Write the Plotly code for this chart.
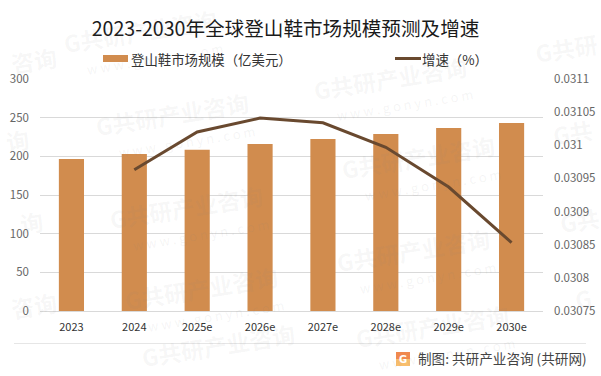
import plotly.graph_objects as go

categories = ["2023", "2024", "2025e", "2026e", "2027e", "2028e", "2029e", "2030e"]
market_size = [196.5, 203, 208.5, 216, 222.5, 229, 236.5, 243]
growth = [None, 0.030963, 0.03102, 0.031041, 0.031034, 0.030997, 0.030937, 0.030853]
left_ticks = [0, 50, 100, 150, 200, 250, 300]
right_ticks = [0.03075, 0.0308, 0.03085, 0.0309, 0.03095, 0.031, 0.03105, 0.0311]
right_labels = ["0.03075", "0.0308", "0.03085", "0.0309", "0.03095", "0.031", "0.03105", "0.0311"]

FONT = "Noto Sans CJK SC"
W, H = 601, 376
L, R, T, B = 40, 543, 79, 311


def fx(px):
    return (px - L) / (R - L)


def fy(py):
    return (B - py) / (B - T)


fig = go.Figure()
fig.add_trace(go.Bar(x=categories, y=market_size, name="登山鞋市场规模（亿美元）",
                     marker=dict(color="#D18C4E", line_width=0), width=0.4,
                     showlegend=False, yaxis="y"))
fig.add_trace(go.Scatter(x=categories, y=growth, name="增速（%）", mode="lines",
                         line=dict(color="#69492F", width=3), showlegend=False,
                         yaxis="y2", connectgaps=False))

ann = []
shapes = []


def text(t, px, py, size, color, xanchor="left", family=FONT, angle=0):
    ann.append(dict(text=t, x=fx(px), y=fy(py), xref="paper", yref="paper", showarrow=False,
                    xanchor=xanchor, yanchor="middle", textangle=angle,
                    font=dict(family=family, size=size, color=color)))


WM = "rgba(130,130,130,0.07)"
WS = "rgba(130,130,130,0.09)"
for px, py in [(140, 31), (172, 114), (186, 207), (201, 288), (218, 345),
               (390, 78), (418, 157), (413, 250), (432, 326)]:
    text("<b>G共研产业咨询</b>", px, py, 23, WM, "center", angle=-9)
    if py + 27 < 360:
        text("w w w . g o n y n . c o m", px + 15, py + 27, 13, WS, "center", angle=-9)

for t, px, py in [("<b>G共研</b>", 530, 48), ("<b>G共</b>", 548, 132), ("<b>G共</b>", 555, 220), ("<b>G</b>", 570, 298)]:
    text(t, px, py, 23, WM, "left", angle=-9)
for t, px, py in [("<b>咨询</b>", 62, 60), ("<b>询</b>", 34, 140), ("<b>询</b>", 48, 222), ("<b>咨询</b>", 62, 305)]:
    text(t, px, py, 23, WM, "right", angle=-9)

# legend
shapes.append(dict(type="rect", xref="paper", yref="paper", x0=fx(103), x1=fx(128),
                   y0=fy(62), y1=fy(55), fillcolor="#D18C4E", line_width=0))
shapes.append(dict(type="line", xref="paper", yref="paper", x0=fx(395), x1=fx(421),
                   y0=fy(58.5), y1=fy(58.5), line=dict(color="#69492F", width=3)))
text("登山鞋市场规模（亿美元）", 129, 59, 13.4, "#333333")
text("增速（%）", 420, 59, 13.4, "#333333")

# footer
shapes.append(dict(type="line", xref="paper", yref="paper", x0=fx(14), x1=fx(586),
                   y0=fy(343.5), y1=fy(343.5), line=dict(color="#E6E6E6", width=1)))
shapes.append(dict(type="rect", xref="paper", yref="paper", x0=fx(396), x1=fx(410),
                   y0=fy(359), y1=fy(352), fillcolor="#F0894F", line_width=0))
shapes.append(dict(type="rect", xref="paper", yref="paper", x0=fx(396), x1=fx(410),
                   y0=fy(366), y1=fy(359), fillcolor="#F9BE6C", line_width=0))
text("<b>G</b>", 403, 359, 10, "#FFFFFF", "center", family="DejaVu Sans")
text("制图: 共研产业咨询 (共研网)", 416, 358, 13.6, "#444444")

fig.update_layout(
    width=W, height=H, autosize=False,
    margin=dict(l=L, r=W - R, t=T, b=H - B, autoexpand=False),
    paper_bgcolor="white", plot_bgcolor="rgba(0,0,0,0)",
    title=dict(text="2023-2030年全球登山鞋市场规模预测及增速", x=285.5 / W, xanchor="center", xref="container",
               y=1 - 29 / H, yanchor="middle", yref="container",
               font=dict(family=FONT, size=19.6, color="#1a1a1a")),
    font=dict(family=FONT),
    bargap=0.6,
    xaxis=dict(type="category", showgrid=False, showline=True, linecolor="#D9D9D9", linewidth=1,
               ticks="", automargin=False, tickfont=dict(family=FONT, size=11, color="#333333"),
               ticklabelstandoff=6),
    yaxis=dict(range=[0, 300], tickvals=left_ticks, showgrid=True, gridcolor="#D9D9D9", gridwidth=1,
               automargin=False, zeroline=False, ticks="",
               tickfont=dict(family=FONT, size=11.5, color="#666666"), ticklabelstandoff=10),
    yaxis2=dict(range=[0.03075, 0.0311], overlaying="y", side="right", tickvals=right_ticks,
                ticktext=right_labels, showgrid=False, zeroline=False, ticks="", automargin=False,
                tickfont=dict(family=FONT, size=11.5, color="#666666"), ticklabelstandoff=10),
    annotations=ann, shapes=shapes,
)
fig.write_html("out.html", config=dict(displayModeBar=False),
               post_script="document.body.style.margin='0';document.body.style.overflow='hidden';")
